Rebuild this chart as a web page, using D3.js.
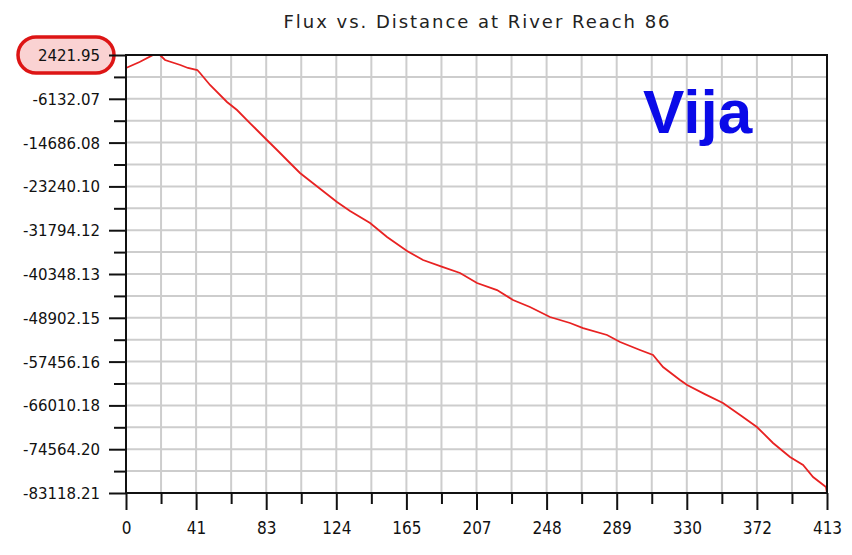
<!DOCTYPE html>
<html><head><meta charset="utf-8">
<script src="https://cdn.jsdelivr.net/npm/d3@7"></script>
<style>body{margin:0;background:#fff}svg{display:block}</style>
</head><body>
<svg id="c" width="852" height="555"></svg>
<script>
const title = "Flux vs. Distance at River Reach 86";
const yTickLabels = ["2421.95","-6132.07","-14686.08","-23240.10","-31794.12","-40348.13","-48902.15","-57456.16","-66010.18","-74564.20","-83118.21"];
const xTickLabels = ["0","41","83","124","165","207","248","289","330","372","413"];
const distance = [0,8,16,20,23,32,36.5,42,43.6,49.5,59.5,65.4,73,83,89,96.6,102.5,110,124.3,132,143.8,153.8,165.6,175,186.8,196.8,206.8,218.6,228,238,249.8,261.6,269.3,283.4,291.1,302.8,310.5,316.4,326.4,330.6,341,351.7,361.8,371.7,381.2,391.2,398.9,404.8,412.4,413];
const flux = [-117,1055,2422,2422,1445,469,-117,-507,-1093,-3437,-6757,-8320,-10860,-14180,-16130,-18670,-20625,-22575,-26290,-28045,-30390,-33120,-35855,-37620,-38990,-40150,-42110,-43480,-45430,-46790,-48750,-49920,-50900,-52260,-53630,-55190,-56170,-58510,-61050,-62030,-63800,-65540,-67890,-70230,-73350,-76090,-77650,-79990,-81950,-83118.21];
const annotation = "Vija";

const svg = d3.select("#c");
const L = 126, R = 827, T = 55, B = 493;
const yVals = yTickLabels.map(Number);
const yMax = d3.max(yVals), yMin = d3.min(yVals);
const xMax = +xTickLabels[xTickLabels.length-1];
const x = d3.scaleLinear().domain([0, xMax]).range([L, R]);
const y = d3.scaleLinear().domain([yMin, yMax]).range([B, T]);

const nX = xTickLabels.length - 1, nY = yTickLabels.length - 1;
const xMajor = d3.range(nX + 1).map(i => i * xMax / nX);
const xMinor = d3.range(nX).map(i => (i + 0.5) * xMax / nX);
const yMajor = yVals;
const yStep = (yMax - yMin) / nY;
const yMinor = d3.range(nY).map(i => yMin + (i + 0.5) * yStep);

// grid
const g = svg.append("g").attr("stroke", "#cdcdcd").attr("stroke-width", 2);
xMajor.concat(xMinor).forEach(v => g.append("line").attr("x1", x(v)).attr("x2", x(v)).attr("y1", T).attr("y2", B));
yMajor.concat(yMinor).forEach(v => g.append("line").attr("y1", y(v)).attr("y2", y(v)).attr("x1", L).attr("x2", R));

// annotation text
svg.append("text").attr("x", 643).attr("y", 133).attr("font-family", "Liberation Sans, Arial, sans-serif")
  .attr("font-weight", "bold").attr("font-size", 62).attr("fill", "#0a0ae8").text(annotation);

// data line
svg.append("path").datum(distance.map((d, i) => [d, flux[i]]))
  .attr("fill", "none").attr("stroke", "#e82222").attr("stroke-width", 1.8)
  .attr("d", d3.line().x(d => x(d[0])).y(d => y(d[1])));

// highlight pill behind first y label
svg.append("rect").attr("x", 18).attr("y", y(yMax) - 18).attr("width", 96).attr("height", 36).attr("rx", 18)
  .attr("fill", "#fad2d2").attr("stroke", "#dd1515").attr("stroke-width", 3.5);

// frame
svg.append("rect").attr("x", L).attr("y", T).attr("width", R - L).attr("height", B - T)
  .attr("fill", "none").attr("stroke", "#111").attr("stroke-width", 2);

// y axis
const ya = svg.append("g").attr("transform", `translate(${L},0)`);
ya.call(d3.axisLeft(y).tickValues(yMajor).tickSize(17).tickFormat((d, i) => yTickLabels[i]));
ya.append("g").call(d3.axisLeft(y).tickValues(yMinor).tickSize(12).tickFormat(""));
ya.selectAll(".domain").remove();
ya.selectAll("line").attr("stroke", "#111").attr("stroke-width", 2);
ya.selectAll("text").attr("font-family", "DejaVu Sans, sans-serif").attr("font-size", 15).attr("fill", "#111")
  .attr("x", -26).attr("dy", "0.36em");

// x axis
const xa = svg.append("g").attr("transform", `translate(0,${B})`);
xa.call(d3.axisBottom(x).tickValues(xMajor).tickSize(17).tickFormat((d, i) => xTickLabels[i]));
xa.append("g").call(d3.axisBottom(x).tickValues(xMinor).tickSize(11).tickFormat(""));
xa.selectAll(".domain").remove();
xa.selectAll("line").attr("stroke", "#111").attr("stroke-width", 2);
xa.selectAll("text").attr("font-family", "DejaVu Sans Condensed, DejaVu Sans, sans-serif").attr("font-size", 17).attr("fill", "#111")
  .attr("y", 29).attr("dy", "0.71em");

// title
svg.append("text").attr("x", (L + R) / 2).attr("y", 28).attr("text-anchor", "middle")
  .attr("font-family", "DejaVu Sans, sans-serif").attr("font-size", 18).attr("fill", "#222")
  .attr("textLength", 386).attr("lengthAdjust", "spacing").text(title);
</script>
</body></html>
